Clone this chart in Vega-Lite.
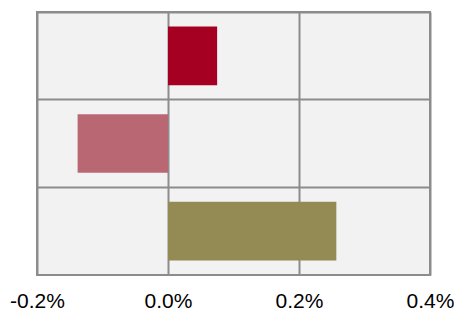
{
  "$schema": "https://vega.github.io/schema/vega-lite/v6.json",
  "width": 393,
  "height": 263,
  "autosize": {"type": "none"},
  "padding": {"left": 37, "top": 12, "right": 24, "bottom": 34},
  "background": "white",
  "config": {
    "view": {"fill": "#F2F2F2", "stroke": "#8C8C8C", "strokeWidth": 2},
    "font": "Liberation Sans"
  },
  "data": {
    "values": [
      {"cat": "A", "value": 0.00075},
      {"cat": "B", "value": -0.00138},
      {"cat": "C", "value": 0.00257}
    ]
  },
  "mark": {"type": "bar", "height": {"band": 0.67}},
  "encoding": {
    "y": {
      "field": "cat",
      "type": "nominal",
      "scale": {"padding": 0},
      "axis": {"title": null, "labels": false, "ticks": false, "domain": false, "grid": true, "bandPosition": 0, "gridColor": "#8C8C8C", "gridWidth": 2, "gridOpacity": 1}
    },
    "x": {
      "field": "value",
      "type": "quantitative",
      "scale": {"domain": [-0.002, 0.004], "nice": false, "zero": false},
      "axis": {"title": null, "values": [-0.002, 0, 0.002, 0.004], "format": ".1%", "labelExpr": "replace(datum.label, '−', '-')", "ticks": false, "domain": false, "grid": true, "gridColor": "#8C8C8C", "gridWidth": 2, "gridOpacity": 1, "labelFontSize": 21, "labelColor": "black", "labelPadding": 15, "labelFont": "Liberation Sans", "labelOverlap": false, "labelFlush": false}
    },
    "color": {
      "field": "cat",
      "type": "nominal",
      "scale": {"domain": ["A", "B", "C"], "range": ["#A50021", "#BA6774", "#948A54"]},
      "legend": null
    }
  }
}
